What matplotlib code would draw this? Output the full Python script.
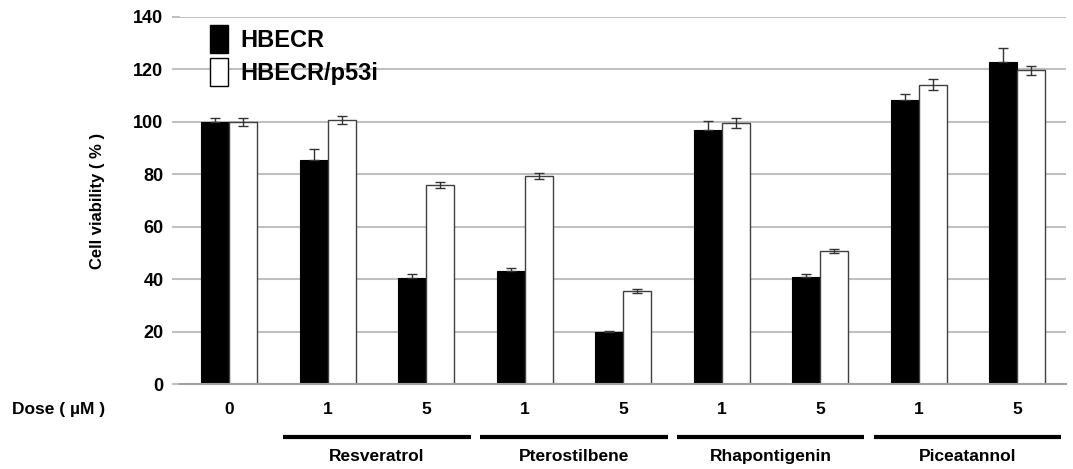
import numpy as np
import matplotlib.pyplot as plt
from matplotlib.patches import Patch
import matplotlib.transforms as mtransforms

plt.rcParams['font.family'] = ['Liberation Sans', 'DejaVu Sans']
plt.rcParams['font.weight'] = 'bold'

# data
doses = ['0', '1', '5', '1', '5', '1', '5', '1', '5']
compounds = ['Resveratrol', 'Pterostilbene', 'Rhapontigenin', 'Piceatannol']
hbecr = [100, 85.5, 40.4, 43.2, 19.8, 96.9, 40.8, 108.5, 122.8]
hbecr_err = [1.5, 4.0, 1.5, 1.2, 0.3, 3.5, 1.3, 2.0, 5.5]
p53i = [100, 100.7, 75.9, 79.3, 35.5, 99.6, 50.6, 114.2, 119.6]
p53i_err = [1.5, 1.5, 1.2, 1.0, 0.8, 1.8, 0.8, 2.2, 1.8]

x = np.arange(len(doses))
w = 0.285
ekw = dict(ecolor='#333333', elinewidth=1, capsize=3.5, capthick=1)

fig = plt.figure(figsize=(10.73, 4.69), dpi=100)
ax = fig.add_axes([0.1678, 0.181, 0.826, 0.783])

ax.set_axisbelow(True)
ax.yaxis.grid(True, color='#c0c0c0', linewidth=1.5)
# black bars hide the lower half of their error bars
ax.bar(x - w / 2, hbecr, w, color='black', edgecolor='black', linewidth=0.8,
       yerr=[np.zeros(len(hbecr)), hbecr_err], error_kw=ekw)
ax.bar(x + w / 2, p53i, w, color='white', edgecolor='#404040', linewidth=1,
       yerr=p53i_err, error_kw=ekw)

ax.set_xlim(-0.5, len(doses) - 0.5)
ax.set_ylim(0, 140)
ax.set_yticks(range(0, 141, 20))
ax.set_xticks([])
for s in ['top', 'right', 'left']:
    ax.spines[s].set_visible(False)
ax.spines['bottom'].set_color('#a0a0a0')
ax.spines['bottom'].set_linewidth(1.5)
ax.tick_params(axis='y', length=6, width=1.5, color='#c0c0c0', labelsize=13, pad=6)
ax.set_ylabel('Cell viability ( % )', fontsize=12, fontweight='bold', labelpad=20)

handles = [Patch(facecolor='black', edgecolor='black'),
           Patch(facecolor='white', edgecolor='black')]
ax.legend(handles, ['HBECR', 'HBECR/p53i'], loc='upper left', bbox_to_anchor=(0.01, 1.035),
          frameon=False, prop=dict(size=17, weight='bold'),
          handlelength=0.75, handleheight=1.45, handletextpad=0.55, labelspacing=0.2)

trans = mtransforms.blended_transform_factory(ax.transData, ax.transAxes)
fig.text(12 / 1073, 1 - 409 / 469, 'Dose ( \u00b5M )', ha='left', va='center',
         fontsize=12.5, fontweight='bold')
for xi, d in zip(x, doses):
    ax.text(xi, -0.068, d, transform=trans, ha='center', va='center',
            fontsize=12.5, fontweight='bold')
for i, name in enumerate(compounds):
    a = 1 + 2 * i
    ax.plot([a - 0.45, a + 1.45], [-0.145, -0.145], transform=trans, color='black',
            linewidth=3, clip_on=False, solid_capstyle='butt')
    ax.text(a + 0.5, -0.197, name, transform=trans, ha='center', va='center',
            fontsize=12.5, fontweight='bold')

fig.savefig('out.png', dpi=100)
